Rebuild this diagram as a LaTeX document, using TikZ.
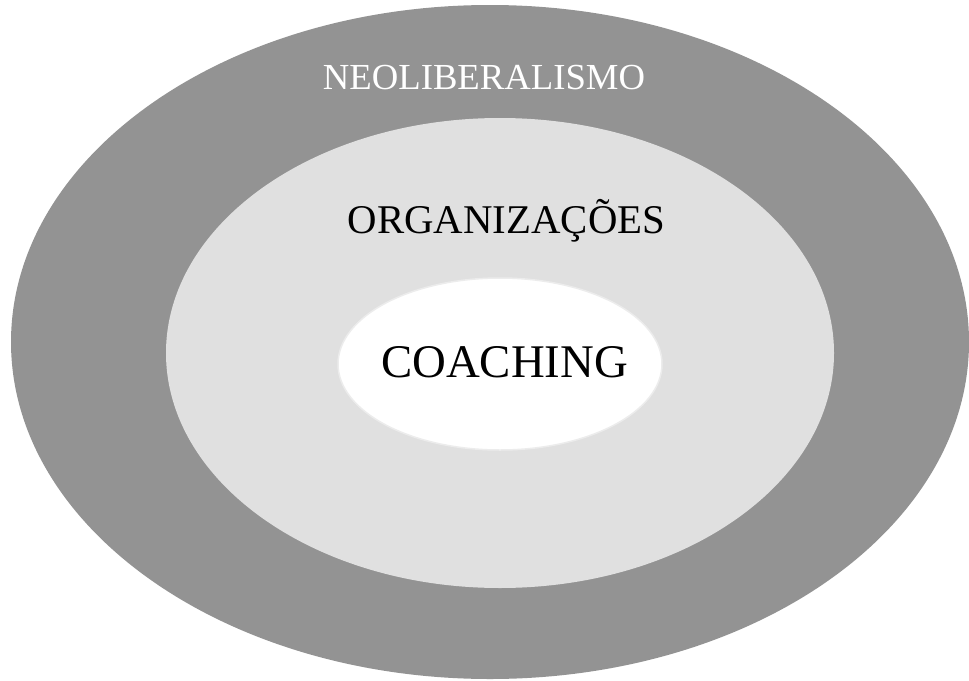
\documentclass[tikz,border=0pt]{standalone}
\usepackage{fontspec}
\setmainfont{Liberation Serif}
\definecolor{outergray}{RGB}{147,147,147}
\definecolor{midgray}{RGB}{224,224,224}
\definecolor{rimgray}{RGB}{236,236,236}
\begin{document}
\begin{tikzpicture}[x=1pt, y=-1pt, every node/.style={inner sep=0pt, anchor=base}]
  \useasboundingbox (0,0) rectangle (969,680);
  \fill[outergray] (490,342) ellipse [x radius=479, y radius=337];
  \fill[midgray] (500,353) ellipse [x radius=334, y radius=235];
  \fill[white, draw=rimgray, line width=1.5pt] (500,364) ellipse [x radius=162, y radius=86];
  \node[text=white, font=\fontsize{36.7}{40}\selectfont] (neo) at (484,89) {NEOLIBERALISMO};
  \node[font=\fontsize{40.8}{44}\selectfont] (org) at (506.5,233) {ORGANIZAÇÕES};
  \node[font=\fontsize{46.8}{50}\selectfont] (coach) at (504.5,377) {COACHING};
\end{tikzpicture}
\end{document}
